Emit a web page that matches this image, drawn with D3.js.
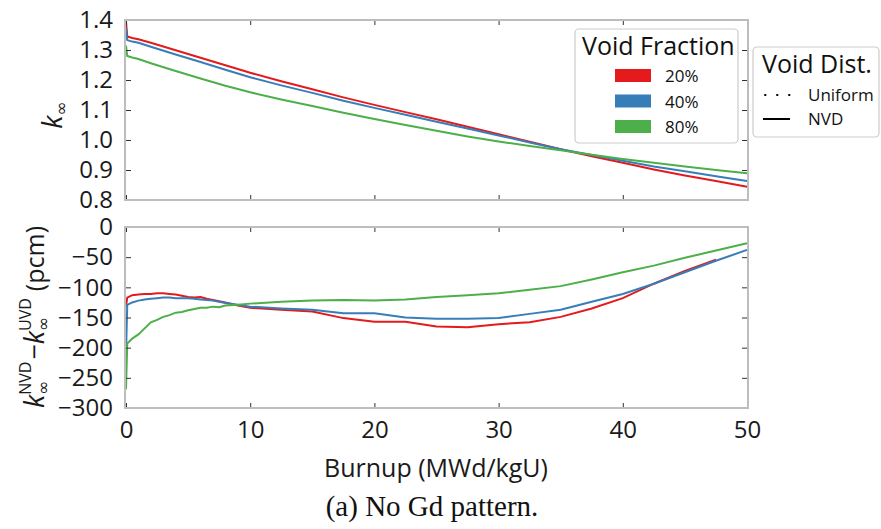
<!DOCTYPE html>
<html>
<head>
<meta charset="utf-8">
<script src="https://cdn.jsdelivr.net/npm/d3@7"></script>
<style>
  body { margin: 0; background: #fff; }
  svg { display: block; }
  .tick text { font-family: "Open Sans", sans-serif; font-size: 24px; fill: #1a1a1a; }
</style>
</head>
<body>
<script>
// burnup sample points (MWd/kgU)
var burnupK = [0, 0.1, 0.5, 1, 2, 4, 6, 8, 10, 12.5, 15, 17.5, 20, 22.5, 25, 27.5, 30, 32.5, 35, 37.5, 40, 42.5, 45, 47.5, 50];
// k-infinity, NVD
var kVoid20 = [1.395, 1.345, 1.340, 1.336, 1.324, 1.299, 1.274, 1.249, 1.224, 1.196, 1.169, 1.142, 1.117, 1.093, 1.069, 1.044, 1.019, 0.994, 0.969, 0.946, 0.924, 0.902, 0.882, 0.863, 0.844];
var kVoid40 = [1.375, 1.333, 1.328, 1.324, 1.311, 1.285, 1.260, 1.234, 1.209, 1.182, 1.157, 1.131, 1.107, 1.084, 1.061, 1.038, 1.015, 0.992, 0.969, 0.950, 0.931, 0.912, 0.896, 0.879, 0.863];
var kVoid80 = [1.315, 1.280, 1.275, 1.270, 1.256, 1.230, 1.205, 1.181, 1.159, 1.135, 1.113, 1.091, 1.070, 1.050, 1.031, 1.012, 0.995, 0.980, 0.966, 0.951, 0.937, 0.924, 0.912, 0.900, 0.889];

// NVD - UVD difference (pcm)
var burnupD = [0, 0.1, 0.5, 1, 1.5, 2, 2.5, 3, 3.5, 4, 4.5, 5, 5.5, 6, 6.5, 7, 7.5, 8, 9, 10, 12.5, 15, 17.5, 20, 22.5, 25, 27.5, 30, 32.5, 35, 37.5, 40, 42.5, 45, 47.5, 50];
var dVoid20 = [-132, -117, -113, -112, -111, -111, -110, -110, -111, -112, -114, -116, -117, -116, -119, -121, -123, -125, -130, -134, -137, -140, -151, -157, -157, -165, -166, -161, -158, -149, -135, -118, -94, -73, -54, null];
var dVoid40 = [-212, -129, -125, -122, -120, -119, -118, -117, -117, -118, -118, -118, -119, -120, -121, -122, -124, -126, -129, -132, -135, -137, -143, -143, -150, -152, -152, -151, -144, -137, -124, -111, -94, -75, -56, -38];
var dVoid80 = [-269, -193, -185, -178, -168, -158, -154, -149, -146, -142, -141, -138, -136, -134, -134, -132, -133, -130, -129, -127, -124, -122, -121, -122, -120, -116, -113, -110, -104, -98, -87, -75, -64, -51, -39, -27];

var voidLabels = ['20%', '40%', '80%'];
var voidColors = ['#e41a1c', '#377eb8', '#4daf4a'];
var distLabels = ['Uniform', 'NVD'];
var kTicks = [0.8, 0.9, 1.0, 1.1, 1.2, 1.3, 1.4];
var dTicks = [-300, -250, -200, -150, -100, -50, 0];
var xTicks = [0, 10, 20, 30, 40, 50];

var w = 881, h = 529;
var left = 126, right = 747;
var frameColor = '#bdbdbd';
var font = '"Open Sans", sans-serif';

var svg = d3.select('body').append('svg')
  .attr('width', w)
  .attr('height', h);

var x = d3.scaleLinear().domain([0, 50]).range([left, right]);
var yTop = d3.scaleLinear().domain([0.8, 1.4]).range([200, 20]);
var yBot = d3.scaleLinear().domain([-300, 0]).range([408, 227]);

// draws frame, inward ticks and labels for one panel
var drawPanel = function(y, ticks, fmt, showX) {
  var y0 = y.range()[0], y1 = y.range()[1];
  var g = svg.append('g');

  g.append('g')
    .attr('transform', 'translate(' + left + ',0)')
    .call(d3.axisLeft(y).tickValues(ticks).tickFormat(fmt).tickSizeInner(-5).tickSizeOuter(0).tickPadding(13));
  g.append('g')
    .attr('transform', 'translate(' + right + ',0)')
    .call(d3.axisRight(y).tickValues(ticks).tickFormat('').tickSizeInner(-5).tickSizeOuter(0));
  g.append('g')
    .attr('transform', 'translate(0,' + y0 + ')')
    .call(d3.axisBottom(x).tickValues(xTicks).tickFormat(showX ? d3.format('d') : '').tickSizeInner(-5).tickSizeOuter(0).tickPadding(13));
  g.append('g')
    .attr('transform', 'translate(0,' + y1 + ')')
    .call(d3.axisTop(x).tickValues(xTicks).tickFormat('').tickSizeInner(-5).tickSizeOuter(0));

  g.selectAll('.domain').remove();
  g.selectAll('.tick line').attr('stroke', '#333').attr('stroke-width', 1);

  g.append('rect')
    .attr('x', left - 1)
    .attr('y', y1)
    .attr('width', right - left + 2)
    .attr('height', y0 - y1)
    .attr('fill', 'none')
    .attr('stroke', frameColor)
    .attr('stroke-width', 2);
  return g;
};

var drawLines = function(y, xs, series) {
  var line = d3.line()
    .defined(function(d) { return d[1] !== null; })
    .x(function(d) { return x(d[0]); })
    .y(function(d) { return y(d[1]); });
  series.forEach(function(vals, i) {
    svg.append('path')
      .datum(xs.map(function(b, j) { return [b, vals[j]]; }))
      .attr('d', line)
      .attr('fill', 'none')
      .attr('stroke', voidColors[i])
      .attr('stroke-width', 2);
  });
};

drawLines(yTop, burnupK, [kVoid20, kVoid40, kVoid80]);
drawLines(yBot, burnupD, [dVoid20, dVoid40, dVoid80]);
drawPanel(yTop, kTicks, d3.format('.1f'), false);
drawPanel(yBot, dTicks, function(d) { return d < 0 ? '\u2212' + (-d) : d; }, true);

// x label
svg.append('text')
  .attr('x', 436)
  .attr('y', 477)
  .attr('text-anchor', 'middle')
  .style('font-family', font)
  .style('font-size', '25px')
  .attr('fill', '#1a1a1a')
  .text('Burnup (MWd/kgU)');

// caption
svg.append('text')
  .attr('x', 432)
  .attr('y', 516)
  .attr('text-anchor', 'middle')
  .style('font-family', '"Liberation Serif", serif')
  .style('font-size', '29px')
  .attr('fill', '#111')
  .text('(a) No Gd pattern.');

// lays out label pieces one after another; parts in a piece share an x
var appendPieces = function(g, pieces) {
  var pos = 0;
  pieces.forEach(function(p) {
    var widest = 0;
    p.forEach(function(part) {
      var t = g.append('text')
        .attr('x', pos + (part.dx || 0))
        .attr('y', part.dy || 0)
        .style('font-family', part.family || font)
        .style('font-size', part.size + 'px')
        .style('font-style', part.italic ? 'italic' : 'normal')
        .attr('fill', '#1a1a1a')
        .text(part.text);
      widest = Math.max(widest, t.node().getComputedTextLength() + (part.dx || 0));
    });
    pos += widest;
  });
  return pos;
};

var inf = '"DejaVu Sans", sans-serif';

// top y label
var gTop = svg.append('g');
var lenTop = appendPieces(gTop, [
  [{text: 'k', size: 27, italic: true}],
  [{text: '\u221e', size: 17, dy: 5, family: inf}]
]);
gTop.attr('transform', 'translate(62,' + (115 + lenTop / 2) + ') rotate(-90)');

// bottom y label
var gBot = svg.append('g');
var lenBot = appendPieces(gBot, [
  [{text: 'k', size: 27, italic: true}],
  [{text: 'NVD', size: 16, dy: -13}, {text: '\u221e', size: 17, dy: 5, family: inf}],
  [{text: '\u2212', size: 27, dx: 2}],
  [{text: 'k', size: 27, italic: true}],
  [{text: 'UVD', size: 16, dy: -13}, {text: '\u221e', size: 17, dy: 5, family: inf}],
  [{text: '(pcm)', size: 25, dx: 7}]
]);
gBot.attr('transform', 'translate(44,' + (317 + lenBot / 2) + ') rotate(-90)');

// legend: void fraction
var lg1 = svg.append('g');
lg1.append('rect')
  .attr('x', 575).attr('y', 29).attr('width', 163).attr('height', 114)
  .attr('rx', 4).attr('fill', '#fff').attr('stroke', '#cccccc').attr('stroke-width', 1.2);
lg1.append('text')
  .attr('x', 582).attr('y', 55)
  .style('font-family', font).style('font-size', '25px').attr('fill', '#111')
  .text('Void Fraction');
voidLabels.forEach(function(lbl, i) {
  var yy = 69 + i * 25.5;
  lg1.append('rect')
    .attr('x', 615).attr('y', yy).attr('width', 36).attr('height', 13)
    .attr('fill', voidColors[i]);
  lg1.append('text')
    .attr('x', 665).attr('y', yy + 13)
    .style('font-family', font).style('font-size', '17px').attr('fill', '#111')
    .text(lbl);
});

// legend: void distribution
var lg2 = svg.append('g');
lg2.append('rect')
  .attr('x', 753).attr('y', 47).attr('width', 126).attr('height', 90)
  .attr('rx', 4).attr('fill', '#fff').attr('stroke', '#cccccc').attr('stroke-width', 1.2);
lg2.append('text')
  .attr('x', 762).attr('y', 73)
  .style('font-family', font).style('font-size', '25px').attr('fill', '#111')
  .text('Void Dist.');
distLabels.forEach(function(lbl, i) {
  var yy = 95 + i * 24;
  lg2.append('line')
    .attr('x1', i === 0 ? 765 : 763).attr('x2', 790).attr('y1', yy).attr('y2', yy)
    .attr('stroke', '#000').attr('stroke-width', 2)
    .attr('stroke-dasharray', i === 0 ? '0.5,11.5' : null)
    .attr('stroke-linecap', i === 0 ? 'round' : 'butt');
  lg2.append('text')
    .attr('x', 808).attr('y', yy + 6)
    .style('font-family', font).style('font-size', '17px').attr('fill', '#111')
    .text(lbl);
});
</script>
</body>
</html>
